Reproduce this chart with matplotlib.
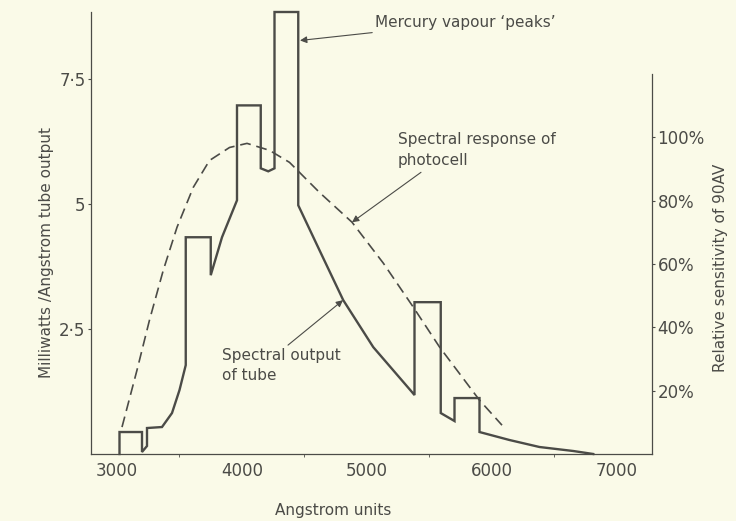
import matplotlib
matplotlib.use('Agg')
import matplotlib.pyplot as plt
from matplotlib.ticker import MultipleLocator

# tube output, milliwatts per angstrom
tube_wavelength = [3020, 3020, 3200, 3200, 3240, 3240, 3360, 3440, 3500, 3550,
                   3550, 3750, 3750, 3840, 3960, 3960, 4150, 4150, 4210,
                   4260, 4260, 4450, 4450, 4620, 4810, 5050, 5360, 5380,
                   5380, 5590, 5590, 5700, 5700, 5900, 5900, 6140, 6380, 6650,
                   6810]
tube_output = [0.0, 0.44, 0.44, 0.04, 0.16, 0.52, 0.54, 0.82, 1.28, 1.78,
               4.34, 4.34, 3.58, 4.34, 5.08, 6.98, 6.98, 5.72, 5.66,
               5.72, 8.85, 8.85, 4.98, 4.08, 3.08, 2.14, 1.24, 1.18,
               3.04, 3.04, 0.82, 0.66, 1.12, 1.12, 0.44, 0.28, 0.14, 0.06,
               0.0]

# photocell response, percent
cell_wavelength = [3040, 3160, 3260, 3370, 3480, 3610, 3740, 3900, 4040, 4220,
                   4380, 4620, 4880, 5130, 5370, 5580, 5900, 6080]
cell_response = [8.5, 26.5, 42.3, 58.0, 71.6, 84.2, 92.7, 96.8, 98.1, 95.9,
                 92.1, 82.6, 73.2, 60.3, 46.4, 33.8, 17.0, 9.1]

x_ticks = [3000, 4000, 5000, 6000, 7000]
left_ticks = [2.5, 5, 7.5]
left_labels = ['2·5', '5', '7·5']
right_ticks = [20, 40, 60, 80, 100]

bg = '#fafae8'
ink = '#4b4b47'

plt.rcParams['font.family'] = 'DejaVu Sans'

fig = plt.figure(figsize=(7.36, 5.21), dpi=100, facecolor=bg)
ax = fig.add_axes([91 / 736, 67 / 521, 561 / 736, 442 / 521])
ax.set_facecolor(bg)

ax.set_xlim(2792, 7280)
ax.set_ylim(0, 8.85)

ax.plot(tube_wavelength, tube_output, color=ink, lw=1.7,
        solid_joinstyle='miter', clip_on=False, zorder=3)

ax2 = ax.twinx()
# 100 % sits at 6.34 on the left scale
ax2.set_ylim(0, 8.85 / 6.34 * 100)
ax2.plot(cell_wavelength, cell_response, color=ink, lw=1.2, dashes=(6.5, 3.5))

for a in (ax, ax2):
    for s in a.spines.values():
        s.set_color(ink)
        s.set_linewidth(0.9)
    a.spines['top'].set_visible(False)
ax.spines['right'].set_visible(False)
ax2.spines['left'].set_visible(False)
ax2.spines['bottom'].set_visible(False)
ax2.spines['right'].set_bounds(0, 120)

ax.set_xticks(x_ticks)
ax.xaxis.set_minor_locator(MultipleLocator(500))
ax.tick_params(axis='x', which='major', length=0, pad=6, labelsize=12, colors=ink)
ax.tick_params(axis='x', which='minor', length=2, color=ink)
ax.set_yticks(left_ticks)
ax.set_yticklabels(left_labels)
ax.tick_params(axis='y', length=2, pad=2, labelsize=12, colors=ink)

ax2.set_yticks(right_ticks)
ax2.set_yticklabels([f'{t}%' for t in right_ticks])
ax2.tick_params(axis='y', length=2, pad=2, labelsize=12, colors=ink)

fig.text(333 / 736, 1 - 510 / 521, 'Angstrom units', ha='center', va='center',
         fontsize=11, color=ink)
fig.text(47 / 736, 1 - 253 / 521, 'Milliwatts /Angstrom tube output', rotation=90,
         ha='center', va='center', fontsize=11, color=ink)
fig.text(721 / 736, 1 - 268 / 521, 'Relative sensitivity of 90AV', rotation=90,
         ha='center', va='center', fontsize=11, color=ink)

arrow = dict(arrowstyle='-|>', color=ink, lw=0.8, mutation_scale=10,
             shrinkA=0, shrinkB=0)

ax.annotate('Mercury vapour ‘peaks’', xy=(4464, 8.28), xytext=(5064, 8.64),
            ha='left', va='center', fontsize=11, color=ink, arrowprops=arrow)
ax.annotate('Spectral response of\nphotocell', xy=(4880, 4.64), xytext=(5248, 6.08),
            ha='left', va='center', fontsize=11, color=ink, linespacing=1.5)
ax.annotate('', xy=(4880, 4.64), xytext=(5432, 5.64), arrowprops=arrow)
ax.annotate('Spectral output\nof tube', xy=(4808, 3.08), xytext=(3840, 1.78),
            ha='left', va='center', fontsize=11, color=ink, linespacing=1.4)
ax.annotate('', xy=(4808, 3.08), xytext=(4368, 2.18), arrowprops=arrow)

fig.savefig('out.png', dpi=100, facecolor=bg)
